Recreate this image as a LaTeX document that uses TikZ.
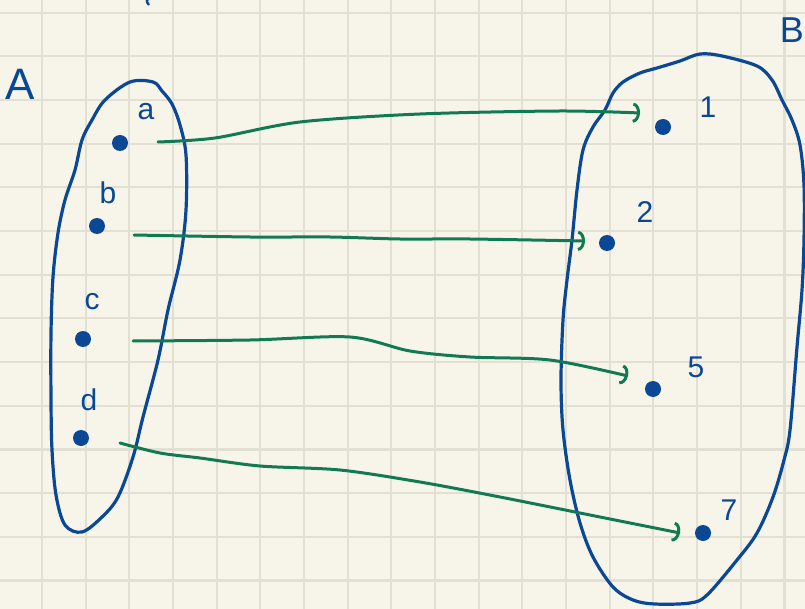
\documentclass[tikz,border=0pt]{standalone}
\usepackage{fontspec}
\setmainfont{Liberation Sans}
\usetikzlibrary{arrows.meta}
\definecolor{paper}{HTML}{F7F5EA}
\definecolor{gridc}{HTML}{E2DFD3}
\definecolor{ink}{HTML}{0A4795}
\definecolor{pen}{HTML}{127A52}
\begin{document}
\begin{tikzpicture}[x=1pt,y=-1pt,
  dotn/.style={circle,fill=ink,inner sep=0pt,minimum size=16pt},
  lab/.style={text=ink,font=\fontsize{30}{30}\selectfont,inner sep=0pt},
  blob/.style={draw=ink,line width=3.2pt},
  conn/.style={draw=pen,line width=3pt,line cap=round,-{Arc Barb[length=7pt,width=20pt]}},
]
\useasboundingbox (0,0) rectangle (805,609);
\clip (0,0) rectangle (805,609);
\fill[paper] (0,0) rectangle (805,609);
\foreach \i in {0,...,18} \draw[gridc,line width=2.2pt] ({-1.67+43.67*\i},0) -- ++(0,609);
\foreach \j in {0,...,13} \draw[gridc,line width=2.2pt] (0,{12.7+43.67*\j}) -- ++(805,0);

% sets
\draw[blob] plot[smooth cycle,tension=0.55] coordinates {(130,82) (153,82) (162,91) (172,104) (180,125) (186,155) (186,210) (180,260) (168,310) (158,360) (143,417) (133,457) (118,497) (102,517) (82,532) (65,525) (56,495) (52,450) (51,400) (51,333) (53,277) (58,233) (65,200) (75,170) (82,140) (92,120) (105,100)};
\draw[blob] plot[smooth cycle,tension=0.55] coordinates {(700,54) (722,56) (757,66) (772,80) (782,100) (792,120) (800,145) (804,185) (804,240) (802,290) (797,347) (790,430) (784,460) (773,497) (757,533) (737,560) (707,595) (690,603) (655,604) (633,600) (613,587) (593,557) (580,523) (570,480) (563,430) (561,380) (563,320) (567,280) (572,240) (577,190) (583,150) (593,127) (605,110) (613,93) (623,82) (640,73) (657,68) (680,61)};

% elements
\node[dotn] (pa) at (120,143) {};
\node[dotn] (pb) at (97,226) {};
\node[dotn] (pc) at (83,339) {};
\node[dotn] (pd) at (81,438) {};
\node[dotn] (p1) at (663,127) {};
\node[dotn] (p2) at (607,243) {};
\node[dotn] (p5) at (653,389) {};
\node[dotn] (p7) at (703,533) {};

% labels
\node[lab,font=\fontsize{44}{44}\selectfont] (lA) at (20,84) {A};
\node[lab,font=\fontsize{36}{36}\selectfont,anchor=east] (lB) at (804,30) {B};
\node[lab] (la) at (146,112) {a};
\node[lab] (lb) at (108,193) {b};
\node[lab] (lc) at (92,302) {c};
\node[lab] (ld) at (89,400) {d};
\node[lab] (l1) at (708,107) {1};
\node[lab] (l2) at (645,212) {2};
\node[lab] (l5) at (696,367) {5};
\node[lab] (l7) at (729,510) {7};
\draw[ink,line width=2.4pt] (150,-3) .. controls (146,1) .. (149,5);

% connector ends
\coordinate (sa) at (158,142);
\coordinate (ea) at (640,113);
\coordinate (sb) at (134,235);
\coordinate (eb) at (585,241);
\coordinate (sc) at (133,341);
\coordinate (ec) at (628,376);
\coordinate (sd) at (120,443);
\coordinate (ed) at (680,533);

\draw[conn] plot[smooth,tension=0.5] coordinates {(sa) (215,138) (300,122) (420,114) (560,111) (ea)};
\draw[conn] plot[smooth,tension=0.5] coordinates {(sb) (250,237) (330,237) (400,239) (470,239) (eb)};
\draw[conn] plot[smooth,tension=0.5] coordinates {(sc) (250,340) (350,337) (410,351) (470,357) (550,360) (ec)};
\draw[conn] plot[smooth,tension=0.5] coordinates {(sd) (160,453) (200,458) (260,466) (340,470) (420,482) (500,497) (600,517) (ed)};
\end{tikzpicture}
\end{document}
